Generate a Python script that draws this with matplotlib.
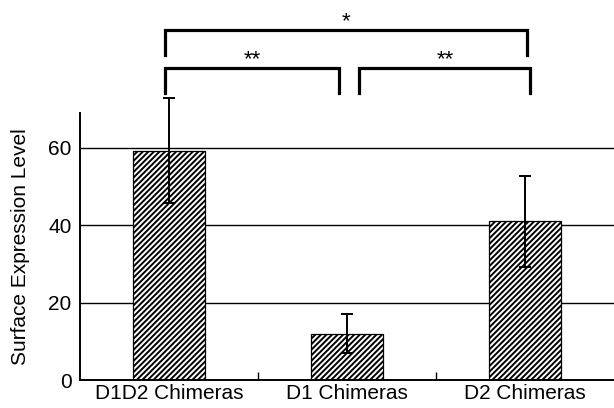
import matplotlib
matplotlib.use("Agg")
import matplotlib.pyplot as plt

plt.rcParams['font.family'] = ['Liberation Sans', 'DejaVu Sans']
plt.rcParams['hatch.linewidth'] = 1.4

groups = ['D1D2 Chimeras', 'D1 Chimeras', 'D2 Chimeras']
means = [59.3, 12.0, 41.0]
errs = [13.5, 5.0, 11.8]

# significance brackets: (x_left, x_right, y_top, y_leg, label, label_y)
brackets = [
    (-0.02, 2.01, 90.5, 84.0, '*', 92.6),
    (-0.02, 0.955, 80.7, 74.2, '**', 82.9),
    (1.07, 2.03, 80.7, 74.2, '**', 82.9),
]

fig = plt.figure(figsize=(6.14, 4.08), dpi=100)
ax = fig.add_axes([0.130, 0.0686, 0.87, 0.654])

x = list(range(len(groups)))
ax.set_axisbelow(True)
ax.yaxis.grid(True, color='black', linewidth=1.0)
ax.bar(x, means, width=0.405, color='white', edgecolor='black',
       linewidth=0.9, hatch='//////', zorder=2)
ax.errorbar(x, means, yerr=errs, fmt='none', ecolor='black',
            elinewidth=1.4, capsize=4, capthick=1.4, zorder=3, clip_on=False)

for x0, x1, yt, yl, lab, ly in brackets:
    ax.plot([x0, x0, x1, x1], [yl, yt, yt, yl], color='black',
            linewidth=2.3, clip_on=False, solid_joinstyle='miter')
    ax.text((x0 + x1) / 2, ly, lab, ha='center', va='center',
            fontsize=16, clip_on=False)

ax.set_xlim(-0.5, 2.5)
ax.set_ylim(0, 69)
ax.set_yticks([0, 20, 40, 60])
ax.set_xticks(x)
ax.set_xticklabels(groups)
ax.set_xticks([0.5, 1.5], minor=True)
ax.tick_params(axis='x', which='major', length=0, labelsize=15, pad=3)
ax.tick_params(axis='x', which='minor', direction='in', length=6, width=1)
ax.tick_params(axis='y', length=0, labelsize=15, pad=6)
ax.set_ylabel('Surface Expression Level', fontsize=15, labelpad=13)

for s in ['top', 'right']:
    ax.spines[s].set_visible(False)
for s in ['left', 'bottom']:
    ax.spines[s].set_linewidth(1.4)

fig.savefig('out.png', dpi=100)
